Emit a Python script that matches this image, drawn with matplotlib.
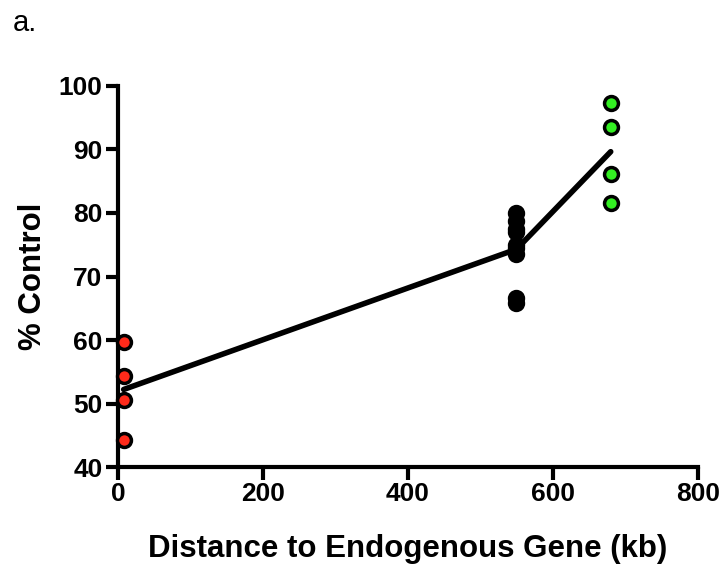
import matplotlib.pyplot as plt
import numpy as np

plt.rcParams['font.family'] = 'Liberation Sans'
plt.rcParams['font.weight'] = 'bold'

# data
red_x = [8, 8, 8, 8]
red_y = [59.7, 54.3, 50.6, 44.3]
black_x = [550] * 9
black_y = [80.0, 78.8, 77.5, 77.0, 75.0, 74.5, 73.5, 66.6, 65.8]
green_x = [680, 680, 680, 680]
green_y = [97.3, 93.5, 86.2, 81.6]

fit_x = [8, 550, 680]
fit_y = [np.mean(red_y), np.mean(black_y), np.mean(green_y)]

fig = plt.figure(figsize=(7.23, 5.69), dpi=100)
ax = fig.add_axes([0.163, 0.179, 0.802, 0.670])

ax.plot(fit_x, fit_y, color='black', linewidth=4, solid_capstyle='round', zorder=2)
for xs, ys, c in [(red_x, red_y, '#ff2a1a'), (black_x, black_y, 'black'), (green_x, green_y, '#33ee22')]:
    ax.plot(xs, ys, 'o', color=c, markeredgecolor='black', markersize=10, markeredgewidth=2.5,
            linestyle='none', zorder=3, clip_on=False)

ax.set_xlim(0, 800)
ax.set_ylim(40, 100)
ax.set_xticks([0, 200, 400, 600, 800])
ax.set_yticks([40, 50, 60, 70, 80, 90, 100])
for s in ['top', 'right']:
    ax.spines[s].set_visible(False)
for s in ['left', 'bottom']:
    ax.spines[s].set_linewidth(3)
ax.tick_params(width=3, length=9, labelsize=19, direction='out', pad=2)
ax.set_xlabel('Distance to Endogenous Gene (kb)', fontsize=22.5, fontweight='bold', labelpad=20)
ax.set_ylabel('% Control', fontsize=22.5, fontweight='bold', labelpad=8)

fig.text(0.017, 0.96, 'a.', fontsize=21, fontweight='normal', va='center')

fig.savefig('out.png', dpi=100)
